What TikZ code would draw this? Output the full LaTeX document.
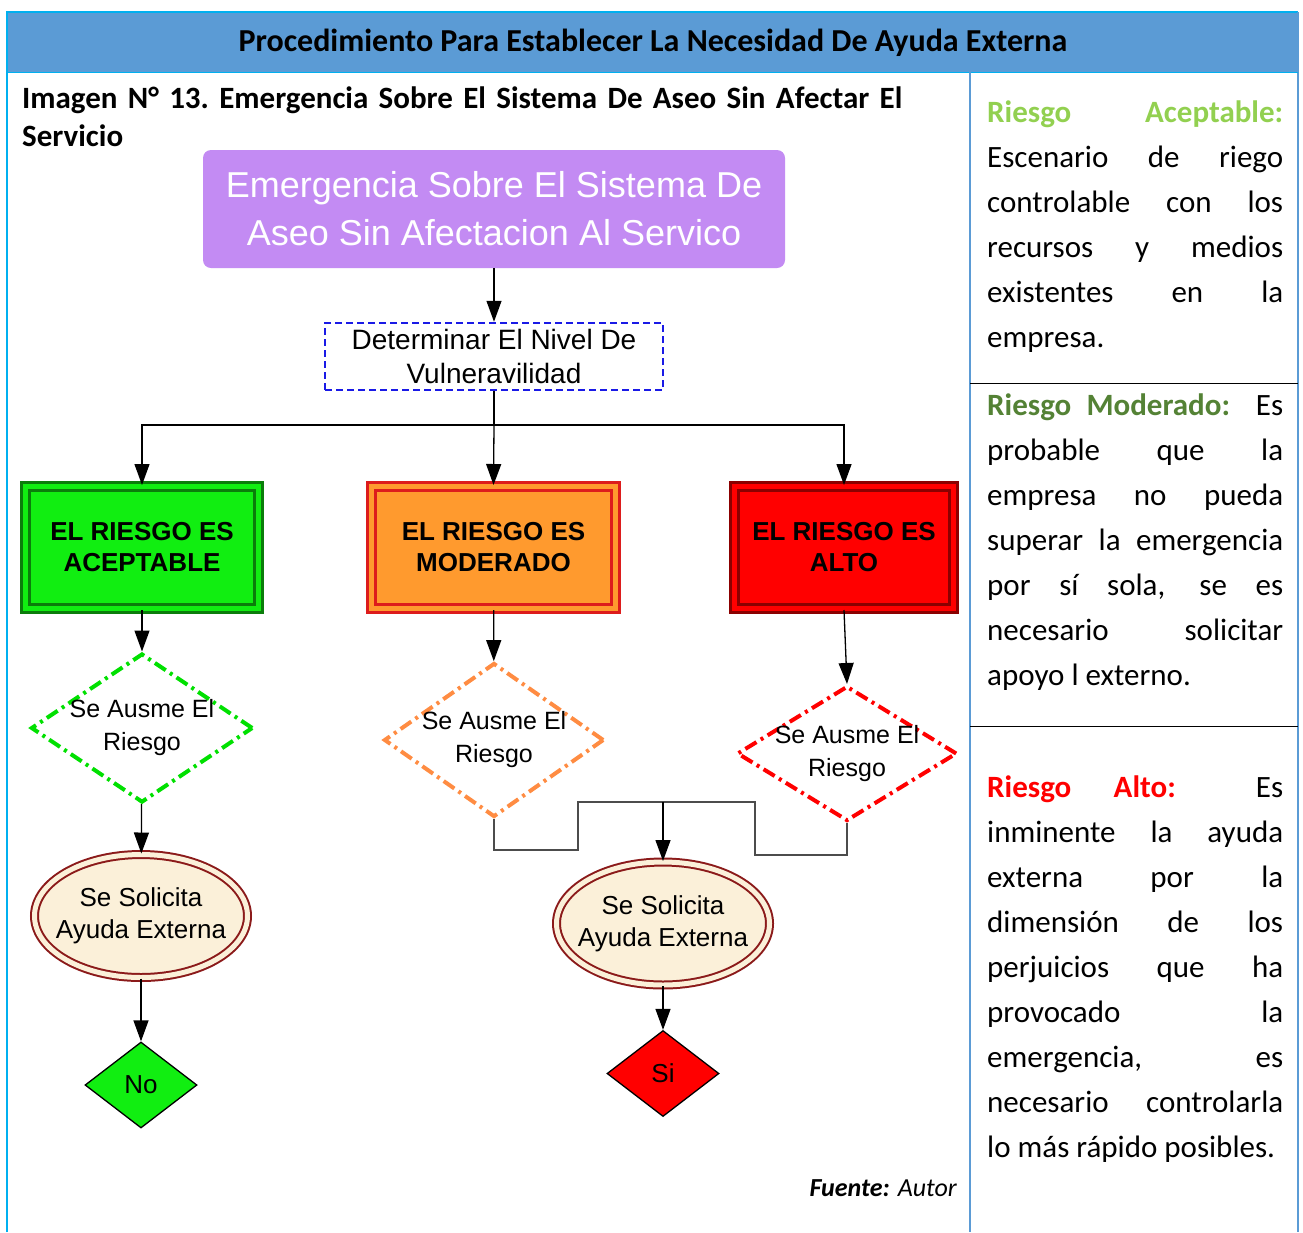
\documentclass[tikz,border=0pt]{standalone}
\usepackage{fontspec}
\setmainfont{Carlito}
\newfontfamily\arialfont{Liberation Sans}
\usetikzlibrary{positioning}
\usetikzlibrary{shapes.geometric}
\usetikzlibrary{arrows.meta}
\definecolor{headblue}{HTML}{5B9BD5}
\definecolor{framecyan}{HTML}{00B0F0}
\definecolor{titlepurple}{HTML}{C38BF3}
\definecolor{vulblue}{HTML}{1A1AE6}
\definecolor{acepfill}{HTML}{11EE11}
\definecolor{acepline}{HTML}{0B7D0B}
\definecolor{modfill}{HTML}{FF9A2E}
\definecolor{modline}{HTML}{DD1C1C}
\definecolor{altofill}{HTML}{FF0000}
\definecolor{altoline}{HTML}{8B0000}
\definecolor{askgreen}{HTML}{00E000}
\definecolor{askorange}{HTML}{FF8C42}
\definecolor{askred}{HTML}{FF0000}
\definecolor{ovalline}{HTML}{8B1A1A}
\definecolor{ovalfill}{HTML}{FBF0D9}
\definecolor{notegreen}{HTML}{92D050}
\definecolor{notemod}{HTML}{548235}

\begin{document}
\begin{tikzpicture}[x = 1pt, y = -1pt,
	flow/.style = {black, line width = 1.3pt, -{Triangle[length = 21pt, width = 15pt]}},
	joinline/.style = {black!70, line width = 1.3pt},
	riskbox/.style = {rectangle, line width = 3pt, double distance = 5pt, minimum height = 122pt, inner sep = 0pt, align = center, font = \arialfont\bfseries\fontsize{26}{31}\selectfont},
	askdiamond/.style = {diamond, line width = 4pt, dash pattern = on 13pt off 5pt on 3pt off 5pt, fill = white, inner sep = 0pt},
	asktext/.style = {align = center, inner sep = 0pt, font = \arialfont\fontsize{25}{33}\selectfont},
	oval/.style = {ellipse, draw = ovalline, double = ovalfill, fill = ovalfill, line width = 2pt, double distance = 5pt, minimum width = 213pt, minimum height = 123pt, inner sep = 0pt},
	answer/.style = {diamond, draw = black, line width = 1.3pt, minimum width = 112pt, minimum height = 86pt, inner sep = 0pt, font = \arialfont\fontsize{26}{30}\selectfont},
	note/.style = {anchor = base west, inner sep = 0pt, text width = 296pt, align = justify, font = \fontsize{31}{45}\selectfont}]
	\useasboundingbox (0, 0) rectangle (1303, 1232);
	\fill [headblue] (7, 12) rectangle (1298, 72);
	\draw [framecyan, line width = 1.5pt] (7, 1232) -- (7, 12) -- (1298, 12);
	\draw [headblue, line width = 1.5pt] (1298, 12) -- (1298, 1232);
	\draw [framecyan, line width = 1pt] (7, 72) -- (1298, 72);
	\draw [headblue, line width = 1.5pt] (970, 72) -- (970, 1232);
	\draw [black, line width = 1pt] (970, 383) -- (1298, 383);
	\draw [black, line width = 1pt] (970, 726) -- (1298, 726);
	\node (head) at (653, 43) [font = \bfseries\fontsize{32}{36}\selectfont] {Procedimiento Para Establecer La Necesidad De Ayuda Externa};
	\node (caption) at (22, 108) [anchor = base west, inner sep = 0pt, text width = 940pt, align = left, font = \bfseries\fontsize{31}{38}\selectfont\frenchspacing] {Imagen N° 13. Emergencia Sobre El Sistema De Aseo Sin Afectar El\\Servicio};
	\node (title) at (494, 209) [rectangle, rounded corners = 8pt, fill = titlepurple, minimum width = 582pt, minimum height = 118pt, align = center, text = white, font = \arialfont\fontsize{36}{48}\selectfont] {Emergencia Sobre El Sistema De\\Aseo Sin Afectacion Al Servico};
	\node (vul) at (494, 356.5) [rectangle, draw = vulblue, line width = 2.5pt, dash pattern = on 7pt off 4pt, minimum width = 338pt, minimum height = 67pt, inner sep = 0pt, align = center, font = \arialfont\fontsize{28}{34}\selectfont] {Determinar El Nivel De\\Vulneravilidad};
	\node (acep) at (142, 547.5) [riskbox, draw = acepline, double = acepfill, fill = acepfill, minimum width = 233pt] {EL RIESGO ES\\ACEPTABLE};
	\node (mod) at (493.5, 547.5) [riskbox, draw = modline, double = modfill, fill = modfill, minimum width = 244pt] {EL RIESGO ES\\MODERADO};
	\node (alto) at (844, 547.5) [riskbox, draw = altoline, double = altofill, fill = altofill, minimum width = 219pt] {EL RIESGO ES\\ALTO};
	\node (acepq) at (142, 728) [askdiamond, draw = askgreen, minimum width = 222pt, minimum height = 149pt] {};
	\node (acepqt) at (acepq) [asktext] {Se Ausme El\\Riesgo};
	\node (modq) at (494, 740) [askdiamond, draw = askorange, minimum width = 220pt, minimum height = 154pt] {};
	\node (modqt) at (modq) [asktext] {Se Ausme El\\Riesgo};
	\node (altoq) at (847, 753.5) [askdiamond, draw = askred, minimum width = 220pt, minimum height = 135pt] {};
	\node (altoqt) at (altoq) [asktext] {Se Ausme El\\Riesgo};
	\node (solA) at (141, 916) [oval] {};
	\node (solAt) at (solA) [asktext, font = \arialfont\fontsize{26}{32}\selectfont] {Se Solicita\\Ayuda Externa};
	\node (solB) at (663, 923.5) [oval] {};
	\node (solBt) at (solB) [asktext, font = \arialfont\fontsize{26}{32}\selectfont] {Se Solicita\\Ayuda Externa};
	\node (no) at (141, 1085) [answer, fill = acepfill] {No};
	\node (si) at (663, 1073.5) [answer, fill = altofill] {Si};
	\coordinate (split) at (494, 425);
	\coordinate (merge) at (663, 802);
	\draw [flow] (title) -- (vul);
	\draw [black, line width = 1.3pt] (vul.south) -- (split);
	\draw [flow] (split) -| (acep.north);
	\draw [flow] (split) -- (mod.north);
	\draw [flow] (split) -| (alto.north);
	\draw [flow] (acep) -- (acepq);
	\draw [flow] (mod) -- (modq);
	\draw [flow] (alto.south) -- (altoq.north);
	\draw [flow] (acepq) -- (solA);
	\draw [joinline] (modq.south) |- (578, 850) -- (578, 802) -- (755, 802) -- (755, 855) -| (altoq.south);
	\draw [flow] (merge) -- (solB);
	\draw [flow] (solA) -- (no);
	\draw [flow] (solB) -- (si);
	\node (acepnote) at (987, 122) [note] {\tolerance = 10000 \textcolor{notegreen}{\textbf{Riesgo Aceptable:}}\linebreak Escenario de riego\linebreak controlable con los\linebreak recursos y medios\linebreak existentes en la\linebreak empresa.};
	\node (modnote) at (987, 415) [note] {\tolerance = 10000 \textcolor{notemod}{\textbf{Riesgo Moderado:}} Es\linebreak probable que la\linebreak empresa no pueda\linebreak superar la emergencia\linebreak por sí sola, se es\linebreak necesario solicitar\linebreak apoyo l externo.};
	\node (altonote) at (987, 797) [note] {\tolerance = 10000 \textcolor{altofill}{\textbf{Riesgo Alto:}} Es\linebreak inminente la ayuda\linebreak externa por la\linebreak dimensión de los\linebreak perjuicios que ha\linebreak provocado la\linebreak emergencia, es\linebreak necesario controlarla\linebreak lo más rápido posibles.};
	\node (source) at (957, 1196) [anchor = base east, inner sep = 0pt, font = \itshape\fontsize{26}{30}\selectfont] {\textbf{Fuente:} Autor};
\end{tikzpicture}
\end{document}
